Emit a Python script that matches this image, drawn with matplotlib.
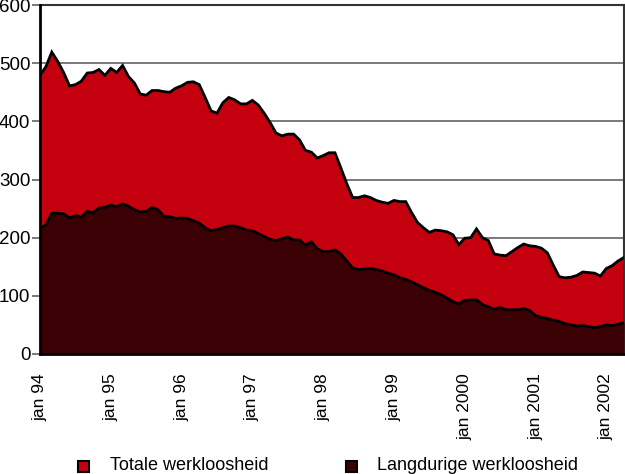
import matplotlib
matplotlib.use("Agg")
import matplotlib.pyplot as plt
from matplotlib.patches import Rectangle
import numpy as np

plt.rcParams['font.family'] = ['Liberation Sans', 'DejaVu Sans']

# Monthly values, jan 1994 .. apr 2002 (x 1000)
totale = [479, 494, 519, 503, 484, 461, 463, 469, 483, 484, 489, 479,
          491, 484, 496, 477, 466, 447, 445, 453, 453, 451, 450, 457,
          461, 467, 468, 463, 441, 418, 414, 432, 441, 437, 430, 430,
          436, 428, 414, 398, 380, 375, 378, 378, 368, 350, 347, 337,
          341, 346, 346, 320, 293, 269, 269, 272, 269, 264, 261, 259,
          264, 262, 262, 243, 226, 217, 209, 213, 212, 210, 205, 188,
          199, 200, 215, 200, 195, 172, 170, 169, 176, 183, 189, 186,
          185, 182, 174, 153, 133, 131, 132, 135, 141, 140, 139, 134,
          147, 152, 160, 166]
langdurig = [216, 222, 242, 242, 241, 234, 238, 235, 245, 243, 251, 252,
             256, 253, 258, 254, 248, 244, 245, 252, 248, 237, 236, 233,
             234, 233, 229, 225, 217, 212, 214, 217, 220, 220, 217, 213,
             212, 207, 202, 197, 195, 198, 201, 196, 196, 187, 193, 181,
             176, 176, 179, 172, 160, 148, 145, 146, 147, 145, 143, 139,
             136, 131, 128, 124, 119, 114, 109, 106, 102, 96, 90, 86,
             92, 93, 93, 85, 81, 77, 80, 76, 76, 76, 78, 75,
             66, 63, 61, 58, 56, 52, 50, 48, 49, 47, 45, 47,
             50, 49, 51, 54]
tick_labels = ['jan 94', 'jan 95', 'jan 96', 'jan 97', 'jan 98', 'jan 99',
               'jan 2000', 'jan 2001', 'jan 2002']
series_names = ['Totale werkloosheid', 'Langdurige werkloosheid']

red = '#c4000f'
dark = '#3a0003'

W, H = 625, 474
x = np.arange(len(totale))

fig = plt.figure(figsize=(W / 100, H / 100), dpi=100)
ax = fig.add_axes([40/W, 120/H, 584/W, 349/H])

ax.fill_between(x, 0, totale, color=red, zorder=2, linewidth=0)
ax.fill_between(x, 0, langdurig, color=dark, zorder=3, linewidth=0)
ax.plot(x, totale, color='black', lw=2, zorder=4, solid_joinstyle='miter')
ax.plot(x, langdurig, color='black', lw=2, zorder=5, solid_joinstyle='miter')

ax.set_xlim(0, len(totale) - 1)
ax.set_ylim(0, 600)
ax.set_yticks(range(0, 601, 100))
ax.yaxis.grid(True, color='#707070', lw=1.3, zorder=1)
ax.set_axisbelow(True)

ax.set_xticks(range(0, len(totale), 12))
ax.set_xticklabels(tick_labels, rotation=90, fontsize=12.5, va='top', ha='center')
ax.tick_params(axis='x', length=0, pad=14)
ax.tick_params(axis='y', length=6, width=1.3, color='#707070', labelsize=13.5, pad=1)

for s in ['left', 'bottom']:
    ax.spines[s].set_linewidth(2)
    ax.spines[s].set_color('black')
    ax.spines[s].set_zorder(6)
for s in ['top', 'right']:
    ax.spines[s].set_linewidth(1.5)
    ax.spines[s].set_color('#333333')

# legend drawn manually below the chart
leg_y = 466
for (mx, tx), col, name in zip([(78, 110), (346, 377)], [red, dark], series_names):
    fig.patches.append(Rectangle(((mx) / W, (H - leg_y - 5.5) / H), 11 / W, 11 / H,
                                 transform=fig.transFigure, facecolor=col,
                                 edgecolor='black', lw=1.5))
    fig.text(tx / W, (H - leg_y) / H, name, fontsize=13, va='center', ha='left')

fig.savefig('out.png', dpi=100)
